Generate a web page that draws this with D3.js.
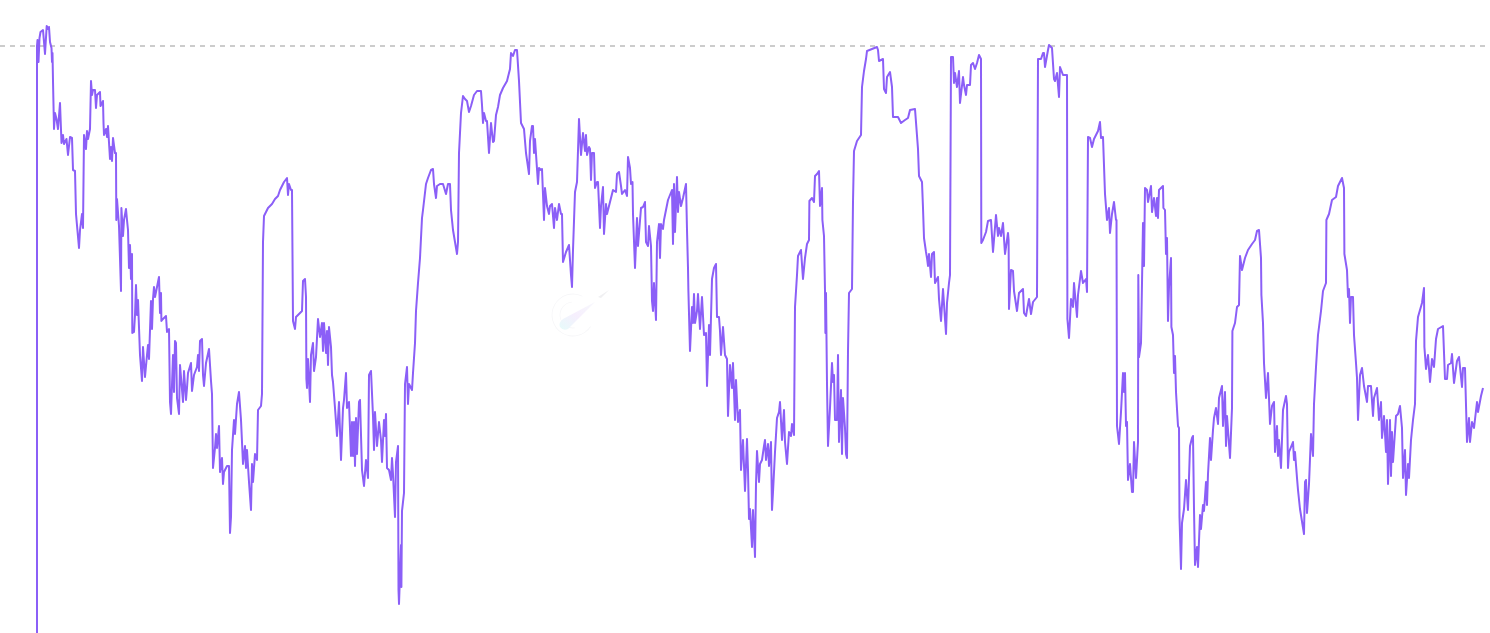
<!DOCTYPE html>
<html><head><meta charset="utf-8">
<script src="https://cdn.jsdelivr.net/npm/d3@7"></script>
<style>html,body{margin:0;padding:0;background:#fff;overflow:hidden}svg{display:block}</style>
</head><body><div id="chart"></div>
<script>
// Series: [session, depth below the top of the plot]
const legA = [[37,633],[37,46],[37.5,40],[38.5,62],[39.5,38],[40.5,32],[43,30],[45,54],[46.7,26],[48,29],[49,27],[50,42],[51.5,48],[52,62],[52.5,53],[53,81],[54,129],[55,113],[56.5,119],[58,129],[60,103],[61.5,143],[63,135],[64,144],[66.5,139],[68,155],[70,137],[72,138],[73,170],[75,171],[76,214],[79,248],[80,230],[82,214],[83,228],[84,135],[86,149],[87,131],[88,139],[90,129],[91,81],[92,95],[93,90],[95,90],[96,108],[97,95],[100,92],[100.5,106],[103,101],[103.5,123],[104,135],[106,129],[107,137],[108,126],[110,159],[111,147],[112,161],[113,138],[115,153],[116,153],[116.3,220],[117,199],[119,226],[121,291],[121.4,208],[123,236],[124,220],[126,209],[127,220],[128,230],[129,268],[130,245],[131,279],[132,254],[132.3,333],[134,332],[135,315],[136,285],[137,315],[138,300],[140,355],[142,381],[143,347],[145,377],[147,355],[148,345],[149,359],[151,301],[152,329],[153,299],[154,287],[155,297],[159,277],[160,313],[161,293],[161.4,321],[163,319],[166,316],[167,332],[169,329],[170,402],[171,414],[173,355],[174,392],[175,341],[176,343],[177,398],[179,414],[180,365],[183,402],[184,371],[186,400],[187,388],[188,373],[191,363],[192,391],[194,375],[197,367],[198,355],[199,371],[200,341],[202,339],[203,375],[204,386],[206,363],[209,349],[211,381],[212,394],[213,468],[215,448],[216,434],[217,448],[219,426],[220,472],[222,458],[223,484],[224,472],[227,466],[229,466],[230,533],[231,517],[232,450],[234,420],[235,434],[237,404],[239,392],[241,420],[243,464],[245,446],[246,468],[247,450],[249,482],[251,510],[252,464],[253,482],[255,454],[257,460],[258,410],[261,406],[262,394],[263,242],[264,216],[266,212],[268,208],[272,204],[275,199],[278,196],[280,190],[284,182],[287,178],[288,195],[289,184],[291,190],[292,190],[293,321],[295,329],[296,317],[300,313]];
const legB = [[302,311],[303,281],[305,279],[306,297],[306.4,379],[307,388],[308,359],[310,402],[311,355],[313,343],[314,371],[316,357],[318,319],[320,337],[322,323],[323,351],[324,323],[326,353],[327,331],[328,365],[329,327],[331,347],[332,375],[333,382],[335,408],[337,436],[339,402],[341,460],[343,408],[344,400],[346,373],[347,408],[349,402],[351,456],[352,422],[353,456],[354,422],[355,466],[356,418],[357,454],[359,402],[360,400],[362,470],[364,486],[366,460],[368,478],[369,375],[371,371],[373,416],[374,450],[375,412],[377,446],[379,422],[381,440],[382,462],[384,420],[385,436],[386,414],[387,468],[389,470],[391,480],[392,458],[393,474],[395,517],[396,462],[398,446],[398.5,590],[399,604],[401,545],[401.4,587],[402,511],[404,493],[405,384],[407,367],[408,404],[409,384],[412,390],[413,373],[415,343],[416,311],[418,283],[420,258],[422,218],[423,210],[426,184],[428,178],[431,170],[433,169],[434,184],[436,198],[437,186],[440,184],[443,184],[446,194],[448,184],[450,184],[451,210],[453,230],[455,242],[457,254],[458,242],[459,153],[461,113],[463,96],[465,99],[467,101],[469,112],[471,106],[474,95],[477,91],[481,91],[482,105],[483,123],[484,113],[486,121],[487,121],[489,153],[491,123],[493,142],[494,141],[496,115],[498,107],[500,95],[503,88],[507,81],[510,69],[511,53],[513,56],[515,50],[517,50],[519,81],[521,123],[524,129],[526,153],[529,174],[530,141],[532,126],[533,126],[534,153],[535,139],[538,184],[539,168],[541,170],[542,169],[544,220],[545,188],[547,206],[549,214],[550,206],[552,204],[554,228],[555,208],[557,220],[559,204],[561,214],[562,214],[563,262],[566,252],[569,245],[571,275],[572,287],[573,250],[575,192],[577,182],[579,119],[581,155],[583,133],[585,151],[586,135],[587,155],[589,147]];
const legC = [[590,149],[591,180],[592,153],[594,153],[595,188],[597,182],[598,182],[600,228],[601,206],[603,187],[604,234],[606,204],[607,214],[610,202],[613,190],[616,192],[617,174],[619,172],[621,186],[622,194],[625,190],[627,196],[628,157],[630,168],[631,184],[632.5,182],[633,214],[635,268],[637,218],[638,246],[641,208],[643,207],[645,202],[646,242],[648,246],[649,226],[651,246],[652,301],[653,311],[654,283],[656,320],[657,242],[659,224],[660,258],[661,224],[663,229],[664,220],[666,210],[668,200],[672,190],[673,244],[674,184],[675,232],[677,177],[678,212],[679,192],[681,206],[683,198],[686,184],[687,230],[688,268],[688.4,291],[690,351],[692,307],[693,323],[694,294],[695,323],[697,311],[698,294],[700,329],[702,297],[704,335],[706,333],[707,386],[709,325],[710,355],[712,279],[714,268],[716,264],[717,317],[719,317],[720,331],[721,355],[723,327],[725,355],[727,359],[728,416],[730,365],[732,388],[733,363],[735,420],[736,380],[738,422],[740,410],[741,470],[743,440],[745,491],[747,439],[748,470],[749,519],[750,509],[752,547],[753,510],[755,557],[756,484],[757,451],[759,482],[760,464],[762,460],[764,446],[765,440],[766,460],[768,444],[769,466],[771,442],[772,510],[773,492],[775,452],[777,418],[779,412],[780,402],[782,440],[784,410],[785,442],[787,464],[789,432],[791,436],[792,424],[794,435],[795,307],[797,275],[798,256],[801,250],[803,279],[805,258],[807,244],[809,240],[809.4,201],[812,198],[814,202],[815,176],[817,174],[819,171],[820,206],[822,188],[822.4,220],[824,236],[825,291],[825.4,333],[826,293],[827,384],[828,446],[830,408],[832,363],[833,382],[834,375],[835,420],[837,420],[838,355],[839,442],[841,390],[842,454],[843,398],[845,428],[846,454],[847,458],[848,351],[849,293],[852,289],[853,202],[854,151],[857,141],[861,135],[862,87],[864,71],[866,59],[867,51],[872,49],[877,47],[878,50]];
const legD = [[879,61],[883,59],[884,89],[886,93],[887,77],[890,72],[892,87],[893,117],[898,117],[901,123],[905,120],[908,118],[910,110],[915,109],[918,149],[919,176],[922,182],[923,208],[924,238],[926,252],[927,258],[928,266],[929,254],[931,277],[932,254],[934,252],[935,283],[938,277],[939,299],[941,321],[943,289],[946,334],[947,303],[949,283],[950,275],[951,57],[953,57],[954,83],[955,73],[957,87],[959,71],[960,103],[963,77],[964,85],[966,95],[967,85],[970,85],[971,65],[973,63],[975,69],[977,63],[979,55],[981,59],[981.3,243],[983,240],[986,232],[988,221],[991,220],[993,252],[996,215],[998,236],[999,228],[1001,236],[1003,223],[1005,254],[1008,233],[1008.6,240],[1009,309],[1011,270],[1013,271],[1014,291],[1017,311],[1019,293],[1023,289],[1024,313],[1026,316],[1027,310],[1029,299],[1031,314],[1033,302],[1037,297],[1038,59],[1041,59],[1043,53],[1044,53],[1045,67],[1048,50],[1049,45],[1052,48],[1054,79],[1055,81],[1057,73],[1059,97],[1060,67],[1063,75],[1067,75],[1067.4,319],[1069,338],[1070,319],[1071,299],[1073,307],[1074,283],[1077,317],[1078,295],[1081,271],[1083,283],[1086,279],[1087,292],[1088,137],[1090,138],[1092,147],[1094,139],[1098,131],[1100,122],[1101,138],[1103,137],[1105,194],[1107,220],[1109,208],[1110,233],[1112,214],[1114,202],[1116,220],[1116.5,220],[1117,426],[1119,444],[1121,412],[1123,373],[1124,392],[1125,373],[1126,426],[1127,422],[1128,480],[1130,464],[1132,492],[1133,492],[1134,442],[1136,478],[1138,442],[1138.3,275],[1139,357],[1141,343],[1143,223],[1144,266],[1145,188],[1147,190],[1148,202],[1151,186],[1152,212],[1154,198],[1156,216],[1157,198],[1158,218],[1159,190],[1163,186],[1163.4,208],[1165,210],[1166,254],[1167,238],[1168,321],[1169,287],[1171,258],[1171.4,327],[1173,335],[1174,373],[1175,356],[1176,392],[1178,426],[1179,428],[1179.5,517],[1181,569]];
const legE = [[1182,523],[1184,509],[1186,480],[1188,510],[1190,446],[1192,438],[1193,436],[1194,509],[1195,565],[1197,547],[1198,567],[1200,515],[1201,529],[1203,505],[1204,511],[1206,482],[1207,505],[1208,474],[1210,438],[1211,460],[1213,430],[1214,418],[1216,408],[1218,424],[1219,398],[1222,386],[1223,426],[1225,392],[1226,446],[1227,416],[1230,458],[1232,408],[1232.4,331],[1235,323],[1237,307],[1239,305],[1240,256],[1242,270],[1245,258],[1248,250],[1252,244],[1255,240],[1257,231],[1259,230],[1261,258],[1261.4,295],[1263,323],[1264,363],[1266,398],[1268,373],[1270,424],[1272,406],[1274,402],[1275,452],[1277,426],[1278,456],[1279,440],[1281,468],[1283,410],[1286,396],[1287,404],[1288,468],[1289,452],[1293,442],[1294,460],[1295,452],[1297,478],[1298,490],[1300,509],[1304,534],[1305,482],[1306,480],[1307,513],[1309,484],[1311,434],[1313,456],[1314,404],[1316,367],[1318,335],[1321,311],[1323,291],[1326,283],[1326.4,220],[1329,214],[1332,200],[1336,197],[1338,186],[1342,178],[1344,188],[1344.4,254],[1347,270],[1348,297],[1349,289],[1350,323],[1351,297],[1353,297],[1354,335],[1356,363],[1357,378],[1358,420],[1360,375],[1362,368],[1364,386],[1367,402],[1368,386],[1371,386],[1373,416],[1374,398],[1377,388],[1379,420],[1381,402],[1382,438],[1384,416],[1386,452],[1387,420],[1388,484],[1390,420],[1391,476],[1392,432],[1393,462],[1396,416],[1398,414],[1400,406],[1402,428],[1403,478],[1405,450],[1406,495],[1408,464],[1409,478],[1411,440],[1413,420],[1415,404],[1416,341],[1418,317],[1422,303],[1424,288],[1424.4,347],[1426,369],[1428,355],[1430,382],[1432,359],[1434,367],[1436,339],[1438,329],[1443,326],[1445,379],[1447,379],[1448,365],[1451,363],[1452,354],[1454,383],[1457,361],[1459,357],[1462,387],[1463,368],[1465,368],[1467,442],[1469,418],[1470,442],[1472,422],[1474,428],[1477,402],[1478,412],[1481,396],[1483,388]];
const referenceDepth = 46;
const sessionExtent = [0, 1490];
const depthExtent = [0, 633];

const W = 1490, H = 633;
const series = [...legA, ...legB, ...legC, ...legD, ...legE];
const x = d3.scaleLinear().domain(sessionExtent).range([0, W]);
const y = d3.scaleLinear().domain(depthExtent).range([0, H]);

const svg = d3.select('#chart').append('svg').attr('width', W).attr('height', H);
const defs = svg.append('defs');
const grad = defs.append('linearGradient').attr('id', 'comet').attr('x1', '0').attr('y1', '1').attr('x2', '1').attr('y2', '0');
[['#e6fbfa', 1], ['#f6eefd', 0.95], ['#f3f4fb', 0.7]].forEach((s, i) =>
  grad.append('stop').attr('offset', i / 2).attr('stop-color', s[0]).attr('stop-opacity', s[1]));

// faint watermark
const mark = svg.append('g').attr('transform', 'translate(573,315)');
mark.append('path')
  .attr('d', d3.arc()({innerRadius: 20.6, outerRadius: 21.4, startAngle: 2.15, endAngle: 6.75}))
  .attr('fill', '#f6f6f8');
mark.append('path')
  .attr('d', d3.arc()({innerRadius: 12.6, outerRadius: 13.4, startAngle: 3.0, endAngle: 6.2}))
  .attr('fill', '#f7f7f9');
mark.append('path').attr('d', 'M-13,12 Q-15,8 -10,4 L22,-13 L-5,14 Q-10,16 -13,12Z').attr('fill', 'url(#comet)');
mark.append('path').attr('d', 'M25,-18 L36,-25 L28,-17Z').attr('fill', '#f0f0f2');

// reference line
svg.append('line')
  .attr('x1', 0).attr('x2', x(1486))
  .attr('y1', y(referenceDepth)).attr('y2', y(referenceDepth))
  .attr('stroke', '#999').attr('stroke-width', 1).attr('stroke-dasharray', '5 5');

// series
svg.append('path').datum(series)
  .attr('fill', 'none').attr('stroke', '#8b5ff7').attr('stroke-width', 2)
  .attr('stroke-linejoin', 'round')
  .attr('d', d3.line().x(d => x(d[0])).y(d => y(d[1])));
</script></body></html>
